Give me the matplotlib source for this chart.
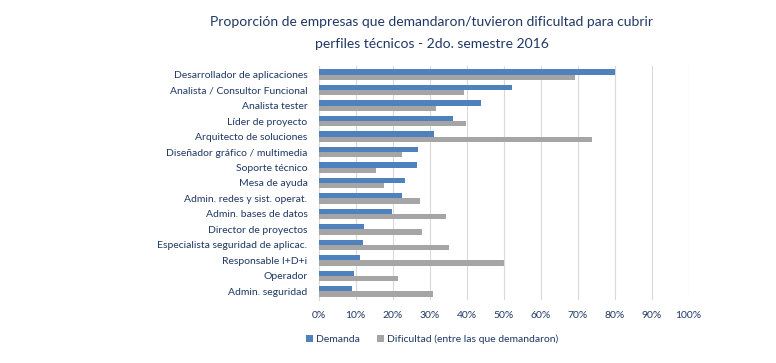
import matplotlib
matplotlib.use("Agg")
import matplotlib.pyplot as plt
import numpy as np

categories = [
    "Desarrollador de aplicaciones",
    "Analista / Consultor Funcional",
    "Analista tester",
    "Líder de proyecto",
    "Arquitecto de soluciones",
    "Diseñador gráfico / multimedia",
    "Soporte técnico",
    "Mesa de ayuda",
    "Admin. redes y sist. operat.",
    "Admin. bases de datos",
    "Director de proyectos",
    "Especialista seguridad de aplicac.",
    "Responsable I+D+i",
    "Operador",
    "Admin. seguridad",
]
demanda = [80.0, 52.4, 44.0, 36.4, 31.1, 26.9, 26.6, 23.3, 22.7, 19.9, 12.2, 11.9, 11.2, 9.6, 9.1]
dificultad = [69.3, 39.2, 31.8, 39.9, 73.9, 22.5, 15.5, 17.7, 27.3, 34.5, 27.9, 35.3, 50.0, 21.5, 30.9]

txt = "#1F3864"
blue = "#4F81BD"
gray = "#A5A5A5"

plt.rcParams['font.family'] = ['Lato', 'DejaVu Sans']

fig = plt.figure(figsize=(7.76, 3.63), dpi=100)
ax = fig.add_axes([318.5 / 776, 63 / 363, 370 / 776, 1 - 63 / 363 - 66 / 363])

y = np.arange(len(categories))
h = 0.33
ax.barh(y - h / 2, demanda, height=h, color=blue, label="Demanda", zorder=3)
ax.barh(y + h / 2, dificultad, height=h, color=gray,
        label="Dificultad (entre las que demandaron)", zorder=3)

ax.set_xlim(0, 100)
ax.set_ylim(len(categories) - 0.5 + 0.05, -0.5 - 0.05)
ax.set_yticks(y)
ax.set_yticklabels(categories, color=txt, fontsize=7.5)
ax.set_xticks(np.arange(0, 101, 10))
ax.set_xticklabels([f"{v}%" for v in range(0, 101, 10)], color=txt, fontsize=7.5)
ax.tick_params(length=0, pad=8)
ax.tick_params(axis='y', pad=8)
ax.grid(axis='x', color="#D9D9D9", linewidth=0.8, zorder=0)
for s in ["top", "right", "bottom"]:
    ax.spines[s].set_visible(False)
ax.spines["left"].set_color("#D9D9D9")

fig.text(432 / 776, 1 - 22 / 363, "Proporción de empresas que demandaron/tuvieron dificultad para cubrir",
         ha="center", va="center", color=txt, fontsize=10)
fig.text(432 / 776, 1 - 44 / 363, "perfiles técnicos - 2do. semestre 2016",
         ha="center", va="center", color=txt, fontsize=10)

ax.legend(loc="center left", bbox_to_anchor=(-0.06, -0.167), ncol=2, frameon=False,
          fontsize=7.5, labelcolor=txt, handlelength=0.7, handleheight=0.7,
          handletextpad=0.3, columnspacing=1.6)

fig.savefig("out.png", dpi=100)
